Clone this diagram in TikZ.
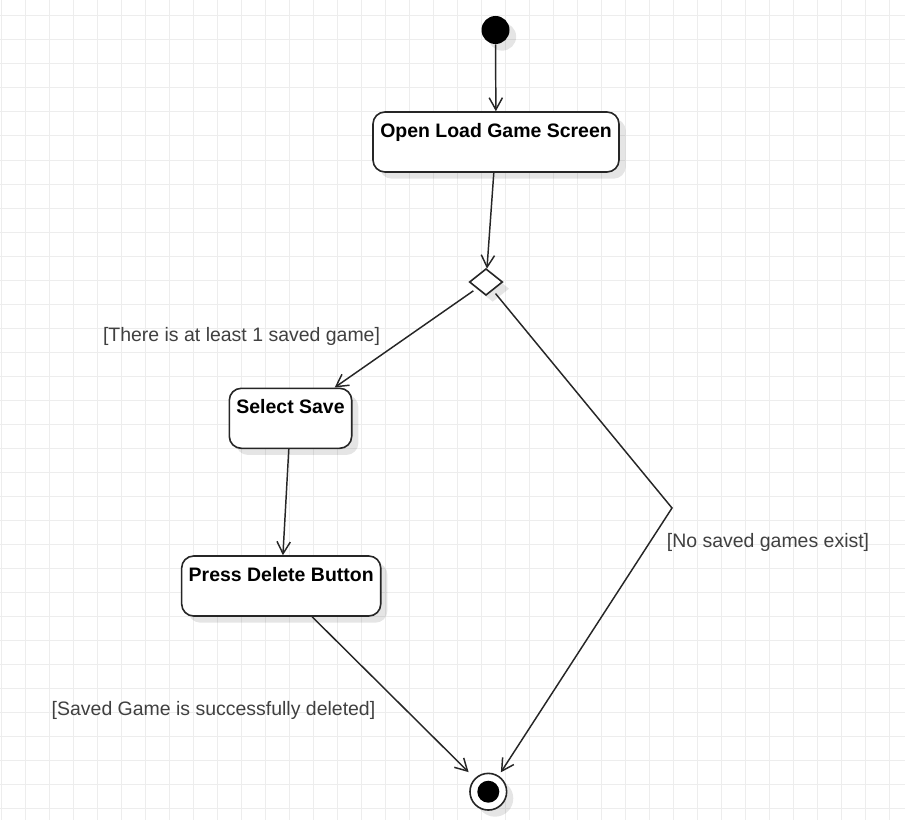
\documentclass[tikz,border=0pt]{standalone}
\usepackage{fontspec}
\setmainfont{Liberation Sans}
\usetikzlibrary{arrows.meta,shapes.geometric,shadows}
\tikzset{
  shade box/.style={drop shadow={shadow xshift=5pt,shadow yshift=-5pt,opacity=.1,fill=black}},
  state/.style={draw=black!85,line width=1.2pt,rounded corners=9pt,fill=white,minimum height=45pt,inner sep=0pt,shade box},
  statetext/.style={anchor=north,inner sep=0pt,yshift=-8.6pt,font=\fontsize{14.6}{17}\selectfont\bfseries},
  guard/.style={anchor=base,inner sep=0pt,text=black!75,font=\fontsize{14.6}{17}\selectfont},
  flow/.style={draw=black!85,line width=1.1pt,-{Straight Barb[length=9pt,width=10pt]}}
}
\begin{document}
\begin{tikzpicture}[x=0.75pt,y=-0.75pt]
\useasboundingbox (0,0) rectangle (905,820);
\fill[white] (0,0) rectangle (905,820);
\foreach \x in {1,25,...,905} \draw[black!7,line width=0.75pt] (\x,0) -- (\x,820);
\foreach \y in {16,40,...,820} \draw[black!7,line width=0.75pt] (0,\y) -- (905,\y);
\node (start) [circle,fill=black,minimum size=21pt,inner sep=0pt,shade box] at (495.5,30) {};
\node (open) [state,minimum width=184.5pt,label={[statetext]north:Open Load Game Screen}] at (496,142) {};
\node (dec) [diamond,draw=black!85,line width=1.2pt,fill=white,minimum width=25pt,minimum height=20pt,inner sep=0pt,shade box] at (486,282) {};
\node (select) [state,minimum width=91.8pt,label={[statetext]north:Select Save}] at (290.5,418.3) {};
\node (press) [state,minimum width=149.3pt,label={[statetext]north:Press Delete Button}] at (281.2,586) {};
\node (fin) [circle,draw=black!85,line width=1.2pt,fill=white,minimum size=27.5pt,inner sep=0pt,shade box] at (488.3,791.7) {};
\fill[black] (fin) circle (8.25pt);
\coordinate (bend) at (672,508);
\draw[flow] (start) -- (open);
\draw[flow] (open) -- (dec);
\draw[flow,shorten <=3pt] (dec) -- (select);
\draw[flow] (select) -- (press);
\draw[flow,shorten >=6.5pt] (press) -- (fin);
\draw[flow,shorten <=3pt,shorten >=3pt] (dec) -- (bend) -- (fin);
\node (g1) [guard] at (241.5,341.5) {[There is at least 1 saved game]};
\node (g2) [guard] at (768,547) {[No saved games exist]};
\node (g3) [guard] at (213.5,715) {[Saved Game is successfully deleted]};
\end{tikzpicture}
\end{document}
